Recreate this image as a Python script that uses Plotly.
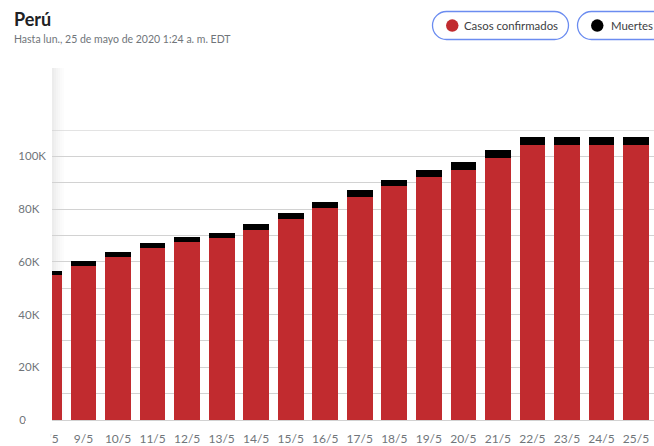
import plotly.graph_objects as go

# ---- data ----
fechas = ["8/5", "9/5", "10/5", "11/5", "12/5", "13/5", "14/5", "15/5", "16/5",
          "17/5", "18/5", "19/5", "20/5", "21/5", "22/5", "23/5", "24/5", "25/5"]
casos_confirmados = [54900, 58500, 61800, 65100, 67400, 69100, 72100, 76300, 80500,
                     84500, 88800, 92300, 95000, 99500, 104200, 104200, 104200, 104200]
muertes = [1600, 1700, 2000, 2000, 2000, 1900, 2300, 2300, 2300,
           2700, 2300, 2700, 2800, 2900, 3000, 3000, 3000, 3000]
y_tick_vals = [0, 20000, 40000, 60000, 80000, 100000]
y_tick_labels = ["0", "20K", "40K", "60K", "80K", "100K"]

titulo = "Perú"
subtitulo = "Hasta lun., 25 de mayo de 2020 1:24 a. m. EDT"
nombre_casos = "Casos confirmados"
nombre_muertes = "Muertes"

# ---- layout geometry ----
W, H = 654, 446
ML, MR, MT, MB = 48, 0, 130, 26
PW, PH = W - ML - MR, H - MT - MB
FONT = "Lato, 'Noto Sans', sans-serif"
RED = "#c12b2f"
GRAY = "#70757a"
STEP = 34.53          # pixels per category
FIRST_CENTER = 49.0   # pixel centre of first category
x_start = (ML - FIRST_CENTER) / STEP
x_end = x_start + PW / STEP


def px(x):
    return (x - ML) / PW


def py(y):
    return (H - MB - y) / PH


def pill_path(x0, x1, y0, y1):
    r = (y1 - y0) / 2
    ym = (y0 + y1) / 2
    k = 0.5523 * r
    pts = [
        ("M", [(x0 + r, y0)]),
        ("L", [(x1 - r, y0)]),
        ("C", [(x1 - r + k, y0), (x1, ym - k), (x1, ym)]),
        ("C", [(x1, ym + k), (x1 - r + k, y1), (x1 - r, y1)]),
        ("L", [(x0 + r, y1)]),
        ("C", [(x0 + r - k, y1), (x0, ym + k), (x0, ym)]),
        ("C", [(x0, ym - k), (x0 + r - k, y0), (x0 + r, y0)]),
    ]
    s = ""
    for cmd, ps in pts:
        s += cmd + " " + " ".join(f"{px(a):.5f},{py(b):.5f}" for a, b in ps) + " "
    return s + "Z"


# pad y tick labels with figure spaces so they appear left-aligned
maxlen = max(len(t) for t in y_tick_labels)
y_tick_text = [t + "\u2007" * (maxlen - len(t)) for t in y_tick_labels]

fig = go.Figure()
fig.add_trace(go.Bar(x=fechas, y=casos_confirmados, name=nombre_casos,
                     marker=dict(color=RED, line=dict(width=0))))
fig.add_trace(go.Bar(x=fechas, y=muertes, name=nombre_muertes,
                     marker=dict(color="#000000", line=dict(width=0))))

shapes = []
# left scroll shadow
alphas = [0.075, 0.06, 0.045, 0.032, 0.02, 0.01]
for i, a in enumerate(alphas):
    shapes.append(dict(type="rect", xref="paper", yref="paper",
                       x0=px(52 + 2 * i), x1=px(54 + 2 * i), y0=py(420), y1=py(68),
                       fillcolor=f"rgba(0,0,0,{a})", line=dict(width=0), layer="below"))
# white strip hiding the plot area left of the scroll edge
shapes.append(dict(type="rect", xref="paper", yref="paper",
                   x0=px(47), x1=px(52), y0=py(421), y1=py(128),
                   fillcolor="white", line=dict(width=0), layer="above"))
# fade covering the clipped first x label
shapes.append(dict(type="rect", xref="paper", yref="paper",
                   x0=px(25), x1=px(50.8), y0=py(446), y1=py(421),
                   fillcolor="white", line=dict(width=0), layer="above"))
shapes.append(dict(type="rect", xref="paper", yref="paper",
                   x0=px(50.8), x1=px(52), y0=py(446), y1=py(421),
                   fillcolor="rgba(255,255,255,0.5)", line=dict(width=0), layer="above"))
# legend pills
shapes.append(dict(type="path", xref="paper", yref="paper",
                   path=pill_path(432.5, 568.5, 11.5, 39.5),
                   fillcolor="white", line=dict(color="#6b8cf0", width=1.3), layer="above"))
shapes.append(dict(type="path", xref="paper", yref="paper",
                   path=pill_path(577.5, 700, 11.5, 39.5),
                   fillcolor="white", line=dict(color="#6b8cf0", width=1.3), layer="above"))
shapes.append(dict(type="circle", xref="paper", yref="paper",
                   x0=px(446), x1=px(458.5), y0=py(31.8), y1=py(19.3),
                   fillcolor=RED, line=dict(width=0), layer="above"))
shapes.append(dict(type="circle", xref="paper", yref="paper",
                   x0=px(591), x1=px(603.5), y0=py(31.8), y1=py(19.3),
                   fillcolor="#000000", line=dict(width=0), layer="above"))

annotations = [
    dict(text=f"<b>{titulo}</b>", xref="paper", yref="paper", x=px(12), y=py(19),
         xanchor="left", yanchor="middle", showarrow=False,
         font=dict(family=FONT, size=18, color="#202124")),
    dict(text=subtitulo, xref="paper", yref="paper", x=px(12), y=py(39),
         xanchor="left", yanchor="middle", showarrow=False,
         font=dict(family=FONT, size=10.5, color=GRAY)),
    dict(text=nombre_casos, xref="paper", yref="paper", x=px(462), y=py(26),
         xanchor="left", yanchor="middle", showarrow=False,
         font=dict(family=FONT, size=11.4, color="#3c4043")),
    dict(text=nombre_muertes, xref="paper", yref="paper", x=px(608.5), y=py(26),
         xanchor="left", yanchor="middle", showarrow=False,
         font=dict(family=FONT, size=11.4, color="#3c4043")),
]

fig.update_layout(
    width=W, height=H,
    margin=dict(l=ML, r=MR, t=MT, b=MB, pad=0),
    paper_bgcolor="white", plot_bgcolor="rgba(0,0,0,0)",
    barmode="stack", bargap=0.256,
    showlegend=False,
    font=dict(family=FONT, size=12, color=GRAY),
    shapes=shapes, annotations=annotations,
    xaxis=dict(type="category", range=[x_start, x_end], showgrid=False,
               showline=False, zeroline=False, ticks="",
               tickfont=dict(family=FONT, size=12, color=GRAY), ticklabelstandoff=10),
    yaxis=dict(range=[0, 110000], tickvals=y_tick_vals, ticktext=y_tick_text,
               showgrid=True, gridcolor="#d2d2d2", gridwidth=1,
               minor=dict(dtick=10000, showgrid=True, gridcolor="#d2d2d2", gridwidth=1),
               showline=False, zeroline=True, zerolinecolor="#d2d2d2", zerolinewidth=1,
               ticks="", tickfont=dict(family=FONT, size=11.5, color=GRAY),
               ticklabelstandoff=1),
)
# top border line at 110K
fig.add_shape(type="line", xref="paper", yref="y", x0=0, x1=1, y0=110000, y1=110000,
              line=dict(color="#c8c8c8", width=1), layer="below")

fig.write_html("out.html", config={"displayModeBar": False},
               post_script="document.body.style.margin='0';")
